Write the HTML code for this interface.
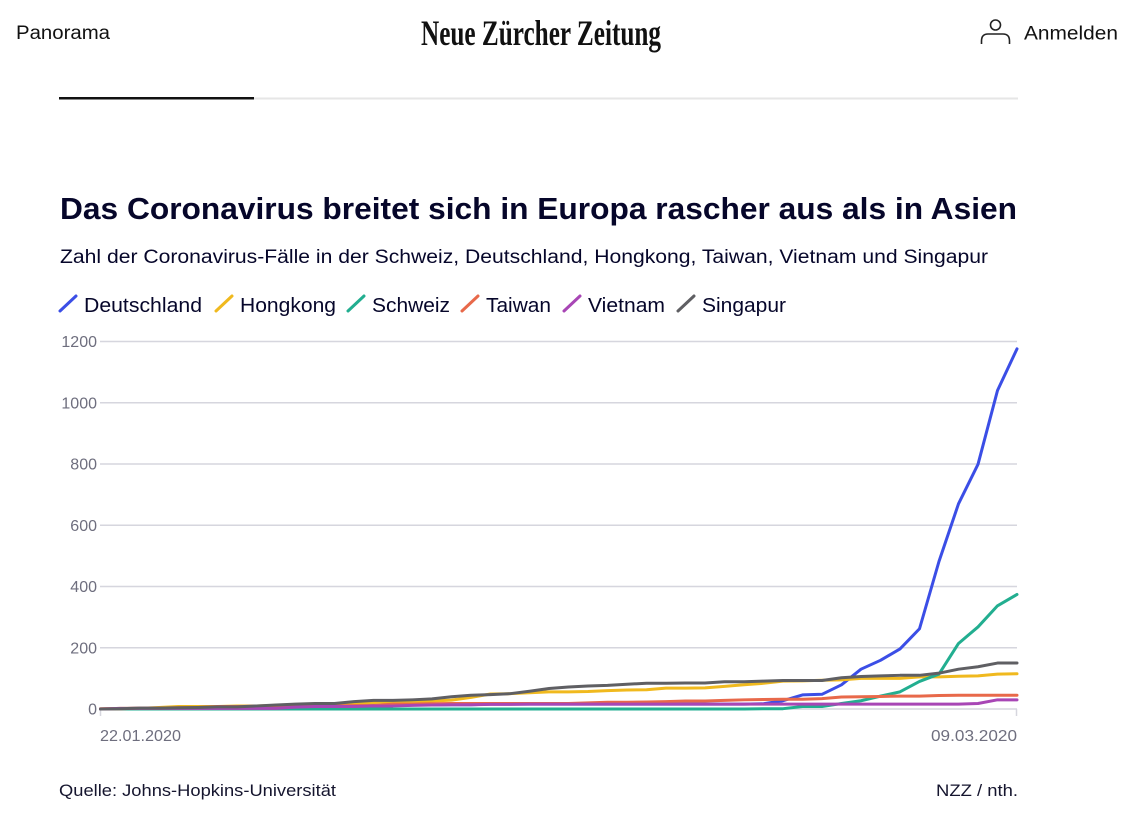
<!DOCTYPE html>
<html>
<head>
<meta charset="utf-8">
<style>
  html,body{margin:0;padding:0;background:#fff;}
  svg{display:block;}
  .sans{font-family:"Liberation Sans",sans-serif;}
</style>
</head>
<body>
<svg width="1137" height="835" viewBox="0 0 1137 835" xmlns="http://www.w3.org/2000/svg">
  <rect width="1137" height="835" fill="#fff"/>

  <!-- Header -->
  <text class="sans" x="16" y="39" font-size="19" fill="#111" textLength="94" lengthAdjust="spacingAndGlyphs">Panorama</text>
  <text x="421" y="45" font-family="'Liberation Serif',serif" font-weight="bold" font-size="36" fill="#111" textLength="240" lengthAdjust="spacingAndGlyphs">Neue Zürcher Zeitung</text>
  <circle cx="995.5" cy="25" r="5" fill="none" stroke="#222" stroke-width="1.6"/>
  <path d="M981.5 44 L981.5 41 Q981.5 34 988 34 L1003 34 Q1009.5 34 1009.5 41 L1009.5 44" fill="none" stroke="#222" stroke-width="1.6"/>
  <text class="sans" x="1024" y="39.5" font-size="19.5" fill="#111" textLength="94" lengthAdjust="spacingAndGlyphs">Anmelden</text>

  <!-- Separator -->
  <rect x="254" y="97.5" width="764" height="2" fill="#e6e6e6"/>
  <rect x="59" y="97" width="195" height="2.5" fill="#111"/>

  <!-- Title & subtitle -->
  <text class="sans" x="60" y="219" font-size="31" font-weight="bold" fill="#06062a" textLength="957" lengthAdjust="spacingAndGlyphs">Das Coronavirus breitet sich in Europa rascher aus als in Asien</text>
  <text class="sans" x="60" y="263" font-size="19" fill="#06062a" textLength="928" lengthAdjust="spacingAndGlyphs">Zahl der Coronavirus-Fälle in der Schweiz, Deutschland, Hongkong, Taiwan, Vietnam und Singapur</text>

  <!-- Legend -->
  <g stroke-width="3" stroke-linecap="round">
    <line x1="60" y1="311" x2="76" y2="296" stroke="#3b4ee6"/>
    <line x1="216" y1="311" x2="232" y2="296" stroke="#f0b91e"/>
    <line x1="348" y1="311" x2="364" y2="296" stroke="#22ae90"/>
    <line x1="462" y1="311" x2="478" y2="296" stroke="#e8694a"/>
    <line x1="564" y1="311" x2="580" y2="296" stroke="#a846b5"/>
    <line x1="678" y1="311" x2="694" y2="296" stroke="#5f5f63"/>
  </g>
  <g class="sans" font-size="20" fill="#06062a">
    <text x="84" y="312" textLength="118" lengthAdjust="spacingAndGlyphs">Deutschland</text>
    <text x="240" y="312" textLength="96" lengthAdjust="spacingAndGlyphs">Hongkong</text>
    <text x="372" y="312" textLength="78" lengthAdjust="spacingAndGlyphs">Schweiz</text>
    <text x="486" y="312" textLength="65" lengthAdjust="spacingAndGlyphs">Taiwan</text>
    <text x="588" y="312" textLength="77" lengthAdjust="spacingAndGlyphs">Vietnam</text>
    <text x="702" y="312" textLength="84" lengthAdjust="spacingAndGlyphs">Singapur</text>
  </g>

  <!-- Gridlines -->
  <g stroke="#d6d6de" stroke-width="1.5">
    <line x1="100" y1="341.5" x2="1017" y2="341.5"/>
    <line x1="100" y1="402.75" x2="1017" y2="402.75"/>
    <line x1="100" y1="464" x2="1017" y2="464"/>
    <line x1="100" y1="525.25" x2="1017" y2="525.25"/>
    <line x1="100" y1="586.5" x2="1017" y2="586.5"/>
    <line x1="100" y1="647.75" x2="1017" y2="647.75"/>
    <line x1="100" y1="709" x2="1017" y2="709"/>
    <line x1="100.5" y1="709" x2="100.5" y2="716"/>
    <line x1="1016.5" y1="709" x2="1016.5" y2="716"/>
  </g>

  <!-- Y labels -->
  <g class="sans" font-size="16" fill="#6e6e7e" text-anchor="end">
    <text x="97" y="347">1200</text>
    <text x="97" y="408.5">1000</text>
    <text x="97" y="469.5">800</text>
    <text x="97" y="531">600</text>
    <text x="97" y="592">400</text>
    <text x="97" y="653.5">200</text>
    <text x="97" y="714.5">0</text>
  </g>

  <!-- X labels -->
  <text class="sans" x="100" y="741" font-size="16" fill="#6e6e7e" textLength="81" lengthAdjust="spacingAndGlyphs">22.01.2020</text>
  <text class="sans" x="931" y="741" font-size="16" fill="#6e6e7e" textLength="86" lengthAdjust="spacingAndGlyphs">09.03.2020</text>

  <!-- Series -->
  <g transform="translate(100.5,709) scale(19.5,-0.30625)" fill="none" stroke-width="3" stroke-linejoin="round" stroke-linecap="round">
    <polyline vector-effect="non-scaling-stroke" stroke="#3b4ee6" points="0,0 1,0 2,0 3,0 4,0 5,1 6,4 7,4 8,4 9,5 10,8 11,10 12,12 13,12 14,12 15,12 16,13 17,13 18,14 19,14 20,16 21,16 22,16 23,16 24,16 25,16 26,16 27,16 28,16 29,16 30,16 31,16 32,16 33,16 34,17 35,27 36,46 37,48 38,79 39,130 40,159 41,196 42,262 43,482 44,670 45,799 46,1040 47,1176"/>
    <polyline vector-effect="non-scaling-stroke" stroke="#f0b91e" points="0,0 1,2 2,2 3,5 4,8 5,8 6,8 7,10 8,10 9,12 10,13 11,15 12,15 13,17 14,21 15,24 16,25 17,26 18,29 19,38 20,49 21,50 22,53 23,56 24,56 25,57 26,60 27,62 28,63 29,68 30,68 31,69 32,74 33,79 34,84 35,91 36,92 37,94 38,95 39,100 40,100 41,100 42,105 43,105 44,107 45,108 46,114 47,115"/>
    <polyline vector-effect="non-scaling-stroke" stroke="#22ae90" points="0,0 33,0 34,1 35,1 36,8 37,8 38,18 39,27 40,42 41,56 42,90 43,114 44,214 45,268 46,337 47,374"/>
    <polyline vector-effect="non-scaling-stroke" stroke="#e8694a" points="0,1 1,1 2,3 3,3 4,4 5,5 6,8 7,8 8,9 9,10 10,10 11,10 12,10 13,11 14,11 15,16 16,16 17,17 18,18 19,18 20,18 21,18 22,18 23,18 24,18 25,20 26,22 27,22 28,23 29,24 30,26 31,26 32,28 33,30 34,31 35,32 36,32 37,34 38,39 39,40 40,41 41,42 42,42 43,44 44,45 45,45 46,45 47,45"/>
    <polyline vector-effect="non-scaling-stroke" stroke="#a846b5" points="0,0 1,2 2,2 3,2 4,2 5,2 6,2 7,2 8,2 9,2 10,6 11,8 12,8 13,8 14,10 15,10 16,12 17,13 18,14 19,14 20,15 21,15 22,16 44,16 45,18 46,30 47,30"/>
    <polyline vector-effect="non-scaling-stroke" stroke="#5f5f63" points="0,0 1,1 2,3 3,3 4,4 5,5 6,7 7,7 8,10 9,13 10,16 11,18 12,18 13,24 14,28 15,28 16,30 17,33 18,40 19,45 20,47 21,50 22,58 23,67 24,72 25,75 26,77 27,81 28,84 29,84 30,85 31,85 32,89 33,89 34,91 35,93 36,93 37,93 38,102 39,106 40,108 41,110 42,110 43,117 44,130 45,138 46,150 47,150"/>
  </g>

  <!-- Footer -->
  <text class="sans" x="59" y="796" font-size="17" fill="#15152e" textLength="277" lengthAdjust="spacingAndGlyphs">Quelle: Johns-Hopkins-Universität</text>
  <text class="sans" x="936" y="796" font-size="17" fill="#15152e" textLength="82" lengthAdjust="spacingAndGlyphs">NZZ / nth.</text>
</svg>
</body>
</html>
